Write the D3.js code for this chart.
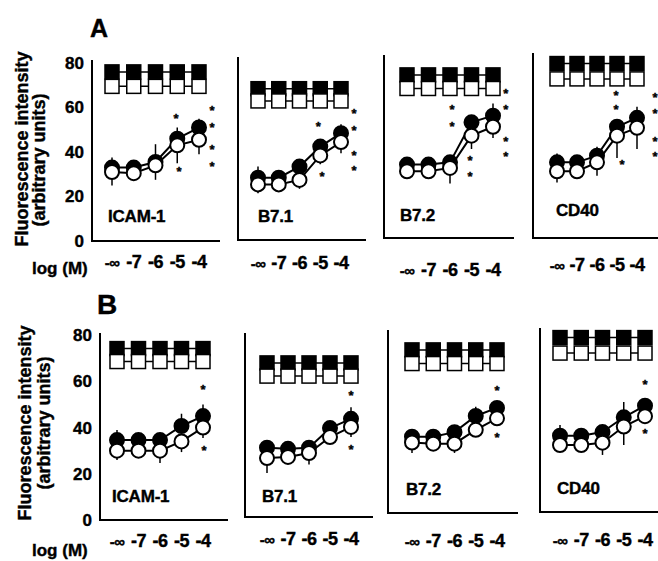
<!DOCTYPE html>
<html>
<head>
<meta charset="utf-8">
<script src="https://cdn.jsdelivr.net/npm/d3@7"></script>
<style>
  body { margin: 0; background: #fff; }
  svg text { font-family: "Liberation Sans", Arial, sans-serif; font-weight: bold; fill: #000; stroke: #000; stroke-width: 0.4px; }
</style>
</head>
<body>
<div id="svgContainer"></div>
<script>
const concentrations = ["-\u221E", "-7", "-6", "-5", "-4"];
const markers = ["ICAM-1", "B7.1", "B7.2", "CD40"];
const yTicks = [0, 20, 40, 60, 80];

// Panel A: circles (filled / open) per marker, one value per concentration
const aFilled = [
    [33, 33, 35.5, 46, 51],
    [28, 28, 33, 42, 48],
    [33, 33, 34, 52, 55],
    [34, 34, 37, 50, 54]
];
const aFilledErr = [
    [4.5, 2, 8, 5, 4],
    [5, 2, 3, 3, 4],
    [3, 2, 3, 3, 5.5],
    [4, 2, 4, 3, 5]
];
const aOpen = [
    [31, 30.5, 34, 43, 45.5],
    [25, 25, 27, 38, 44],
    [30, 30, 31.5, 46, 50],
    [30, 30, 34, 46, 49.5]
];
const aOpenErr = [
    [6, 2, 6.5, 8, 6.5],
    [4, 2, 4, 4, 5],
    [3, 2, 7, 6, 5],
    [5, 2, 6, 10, 9.5]
];
// squares (filled / open)
const aSquareFilled = [
    [76, 76, 76, 76, 76],
    [68, 68, 68, 68, 68],
    [73.3, 73.3, 73.3, 73.3, 73.3],
    [78.4, 78.4, 78.4, 78.4, 78.4]
];
const aSquareOpen = [
    [69.5, 69.5, 69.5, 69.5, 69.5],
    [62.5, 62.5, 62.5, 62.5, 62.5],
    [67.2, 67.2, 67.2, 67.2, 67.2],
    [71.5, 71.5, 71.5, 71.5, 71.5]
];
// asterisks: [concentration index, value]
const aStars = [
    [[2.94, 56.6], [3.08, 32.8], [4.6, 60.2], [4.6, 52.6], [4.6, 42.7], [4.6, 35]],
    [[2.9, 52.6], [3.08, 30.1], [4.63, 58.4], [4.63, 50.8], [4.63, 39.5], [4.63, 32.4]],
    [[2.1, 58.9], [2.1, 51.7], [2.93, 36.4], [2.93, 29.2], [4.6, 66.5], [4.6, 59.3], [4.6, 44.9], [4.6, 37.8]],
    [[2.95, 65.2], [2.95, 58.9], [3.25, 34.2], [4.9, 64.3], [4.9, 57.1], [4.9, 44.9], [4.9, 37.8]]
];

// Panel B
const bFilled = [
    [34.6, 34.6, 34.6, 40.7, 45],
    [30, 29.5, 30, 38.5, 42.5],
    [33, 33, 35, 42, 45.5],
    [33, 33, 34.6, 41, 46]
];
const bFilledErr = [
    [4.4, 2, 2, 5.3, 5],
    [2.5, 2, 2, 3, 5],
    [3, 2, 3, 4, 3],
    [4.7, 2, 2.5, 6.6, 2.5]
];
const bOpen = [
    [30, 30, 30, 34, 40],
    [25.5, 26, 27.7, 34.6, 39],
    [30.5, 30, 30, 36, 41],
    [29, 29, 30, 37, 41.5]
];
const bOpenErr = [
    [4, 2, 5.3, 4.6, 4.5],
    [6.5, 2, 5, 3, 4.4],
    [4.5, 2, 4, 3, 3],
    [3, 2, 5.3, 8, 3]
];
const bSquareFilled = [
    [74.2, 74.2, 74.2, 74.2, 74.2],
    [66.7, 66.7, 66.7, 66.7, 66.7],
    [70.6, 70.6, 70.6, 70.6, 70.6],
    [75.5, 75.5, 75.5, 75.5, 75.5]
];
const bSquareOpen = [
    [68.6, 68.6, 68.6, 68.6, 68.6],
    [61, 61, 61, 61, 61],
    [64.7, 64.7, 64.7, 64.7, 64.7],
    [68.8, 68.8, 68.8, 68.8, 68.8]
];
const bStars = [
    [[4, 57.6], [4.05, 31.2]],
    [[4, 53.7], [4, 30.7]],
    [[4, 54.5], [4, 33.8]],
    [[4, 56.3], [4, 35.5]]
];

const width = 658;
const height = 561;

const svg = d3.select("#svgContainer").append("svg")
    .attr("width", width)
    .attr("height", height);

// layout of the two panels (scanned figure, so frames are a bit uneven)
const rows = [
    {
        letter: "A", letterX: 90, letterY: 37, letterSize: 25,
        k: 2.225, logY: 274, titleX: [28, 45], titleY: [149, 160],
        filled: aFilled, filledErr: aFilledErr, open: aOpen, openErr: aOpenErr,
        sqFilled: aSquareFilled, sqOpen: aSquareOpen, stars: aStars,
        frames: [
            {left: 92, top: 60, bottom: 241, right: 220, x0: 112, x1: 199, tickY: 268, labX: 108, labY: 222},
            {left: 238, top: 57, bottom: 240, right: 366, x0: 258, x1: 341, tickY: 269, labX: 258, labY: 222},
            {left: 384, top: 55, bottom: 238, right: 514, x0: 407, x1: 493, tickY: 276, labX: 400, labY: 221},
            {left: 533, top: 53, bottom: 238, right: 660, x0: 557, x1: 637, tickY: 271, labX: 556, labY: 216}
        ]
    },
    {
        letter: "B", letterX: 97, letterY: 314, letterSize: 28,
        k: 2.31, logY: 556, titleX: [31, 50], titleY: [423, 423],
        filled: bFilled, filledErr: bFilledErr, open: bOpen, openErr: bOpenErr,
        sqFilled: bSquareFilled, sqOpen: bSquareOpen, stars: bStars,
        frames: [
            {left: 100, top: 333, bottom: 520, right: 228, x0: 117, x1: 203, tickY: 547, labX: 112, labY: 502},
            {left: 245, top: 333, bottom: 517, right: 373, x0: 267, x1: 351, tickY: 545, labX: 262, labY: 502},
            {left: 388, top: 330, bottom: 513, right: 518, x0: 412, x1: 497, tickY: 547, labX: 406, labY: 495},
            {left: 540, top: 328, bottom: 512, right: 660, x0: 560, x1: 645, tickY: 546, labX: 557, labY: 494}
        ]
    }
];

const sq = 14;
const r = 7;

rows.forEach(row => {
    svg.append("text")
        .attr("x", row.letterX)
        .attr("y", row.letterY)
        .attr("font-size", row.letterSize)
        .text(row.letter);

    svg.append("text")
        .attr("transform", `translate(${row.titleX[0]},${row.titleY[0]}) rotate(-90)`)
        .attr("text-anchor", "middle")
        .attr("font-size", 18)
        .text("Fluorescence intensity");
    svg.append("text")
        .attr("transform", `translate(${row.titleX[1]},${row.titleY[1]}) rotate(-90)`)
        .attr("text-anchor", "middle")
        .attr("font-size", 18)
        .text("(arbitrary units)");

    svg.append("text")
        .attr("x", 32)
        .attr("y", row.logY)
        .attr("font-size", 17)
        .text("log (M)");

    markers.forEach((m, i) => drawSubplot(row, i));
});

function drawSubplot(row, i) {
    const f = row.frames[i];
    const g = svg.append("g");
    const y = d3.scaleLinear().domain([0, 80]).range([f.bottom, f.bottom - 80 * row.k]);
    const x = d3.scaleLinear().domain([0, concentrations.length - 1]).range([f.x0, f.x1]);

    g.append("path")
        .attr("d", `M${f.left},${f.top}V${f.bottom}H${f.right}`)
        .attr("fill", "none")
        .attr("stroke", "#000")
        .attr("stroke-width", 2);

    if (i === 0) {
        const yAxis = g.append("g")
            .attr("transform", `translate(${f.left},0)`)
            .call(d3.axisLeft(y).tickValues(yTicks).tickSize(0).tickPadding(8));
        yAxis.select(".domain").remove();
        yAxis.attr("font-family", null).attr("font-size", null);
        yAxis.selectAll("text").attr("font-size", 17).attr("fill", "#000");
    }

    // concentration labels
    g.append("g")
        .selectAll("text")
        .data(concentrations)
        .join("text")
        .attr("x", (d, j) => x(j))
        .attr("y", f.tickY)
        .attr("text-anchor", "middle")
        .attr("font-size", (d, j) => j === 0 ? 15 : 18)
        .attr("letter-spacing", -0.5)
        .text(d => d);

    g.append("text")
        .attr("x", f.labX)
        .attr("y", f.labY)
        .attr("font-size", 17)
        .attr("letter-spacing", -0.2)
        .text(markers[i]);

    const line = d3.line().x((d, j) => x(j)).y(d => y(d));

    // squares row
    [row.sqFilled[i], row.sqOpen[i]].forEach(vals => {
        g.append("path")
            .attr("d", line(vals))
            .attr("fill", "none")
            .attr("stroke", "#000")
            .attr("stroke-width", 1.5);
    });
    g.append("g")
        .selectAll("rect")
        .data(row.sqFilled[i])
        .join("rect")
        .attr("x", (d, j) => x(j) - sq / 2)
        .attr("y", d => y(d) - sq / 2)
        .attr("width", sq)
        .attr("height", sq)
        .attr("fill", "#000")
        .attr("stroke", "#000")
        .attr("stroke-width", 1.5);
    g.append("g")
        .selectAll("rect")
        .data(row.sqOpen[i])
        .join("rect")
        .attr("x", (d, j) => x(j) - sq / 2)
        .attr("y", d => y(d) - sq / 2)
        .attr("width", sq)
        .attr("height", sq)
        .attr("fill", "#fff")
        .attr("stroke", "#000")
        .attr("stroke-width", 1.5);

    // circle series
    const filled = row.filled[i];
    const open = row.open[i];
    [filled, open].forEach(vals => {
        g.append("path")
            .attr("d", line(vals))
            .attr("fill", "none")
            .attr("stroke", "#000")
            .attr("stroke-width", 2);
    });

    g.append("g")
        .selectAll("line")
        .data(filled)
        .join("line")
        .attr("x1", (d, j) => x(j))
        .attr("x2", (d, j) => x(j))
        .attr("y1", d => y(d))
        .attr("y2", (d, j) => y(d + row.filledErr[i][j]))
        .attr("stroke", "#000")
        .attr("stroke-width", 1.5);
    g.append("g")
        .selectAll("line")
        .data(open)
        .join("line")
        .attr("x1", (d, j) => x(j))
        .attr("x2", (d, j) => x(j))
        .attr("y1", d => y(d))
        .attr("y2", (d, j) => y(d - row.openErr[i][j]))
        .attr("stroke", "#000")
        .attr("stroke-width", 1.5);

    g.append("g")
        .selectAll("circle")
        .data(filled)
        .join("circle")
        .attr("cx", (d, j) => x(j))
        .attr("cy", d => y(d))
        .attr("r", r)
        .attr("fill", "#000")
        .attr("stroke", "#000")
        .attr("stroke-width", 2);
    g.append("g")
        .selectAll("circle")
        .data(open)
        .join("circle")
        .attr("cx", (d, j) => x(j))
        .attr("cy", d => y(d))
        .attr("r", r)
        .attr("fill", "#fff")
        .attr("stroke", "#000")
        .attr("stroke-width", 2);

    // significance asterisks
    g.append("g")
        .selectAll("text")
        .data(row.stars[i])
        .join("text")
        .attr("x", d => x(d[0]))
        .attr("y", d => y(d[1]))
        .attr("dy", "0.58em")
        .attr("text-anchor", "middle")
        .attr("font-size", 13)
        .text("*");
}
</script>
</body>
</html>
